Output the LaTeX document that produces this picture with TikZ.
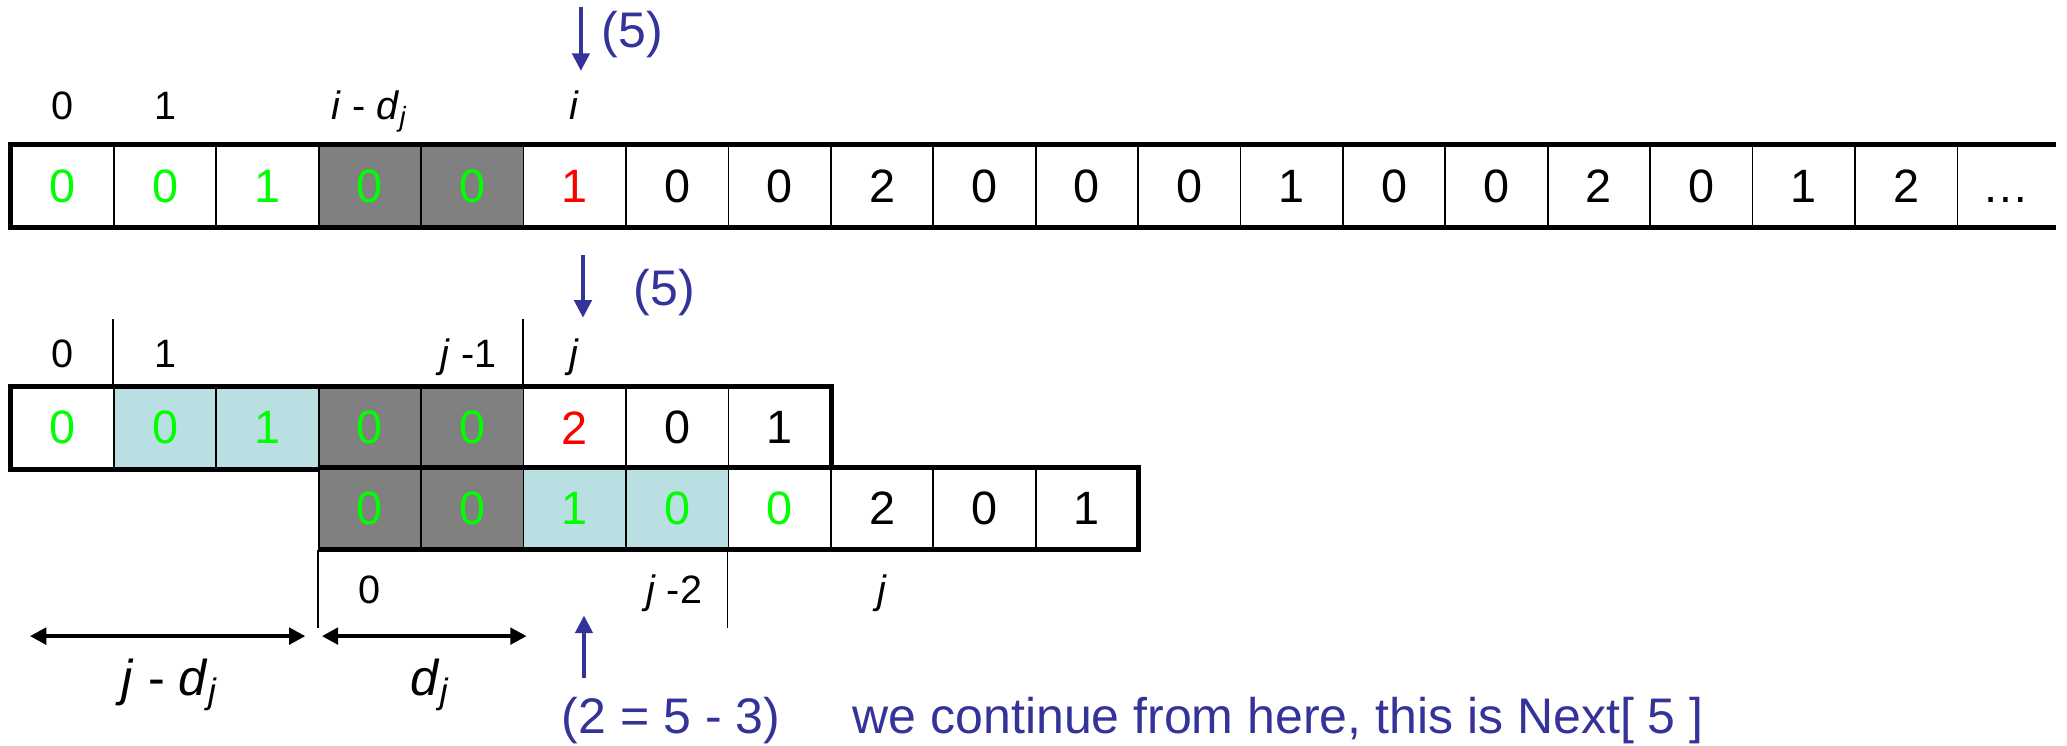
\documentclass[tikz,border=0pt]{standalone}
\usepackage{fontspec}
\setmainfont{Liberation Sans}
\usetikzlibrary{arrows.meta}
\definecolor{hlgreen}{HTML}{00FF00}
\definecolor{hlred}{HTML}{FF0000}
\definecolor{shade}{HTML}{808080}
\definecolor{match}{HTML}{BADFE3}
\definecolor{ptrblue}{HTML}{333399}

\begin{document}
\begin{tikzpicture}[
    cell/.style={draw, line width=0.5pt, minimum width=1cm, minimum height=0.79cm,
      inner sep=0pt, font=\fontsize{13}{15}\selectfont},
    frame/.style={line width=1.4pt},
    tick/.style={line width=0.5pt},
    idx/.style={anchor=base, font=\fontsize{11}{13}\selectfont},
    bigidx/.style={anchor=base, font=\fontsize{14}{16}\selectfont},
    ptr/.style={-{Triangle[length=0.17cm, width=0.17cm]}, line width=0.9pt, ptrblue},
    ptrtxt/.style={anchor=base west, text=ptrblue, font=\fontsize{13.9}{16}\selectfont},
    span/.style={{Triangle[length=0.16cm, width=0.16cm]}-{Triangle[length=0.16cm, width=0.16cm]},
      line width=1.2pt},
  ]
    \useasboundingbox (-0.112,-5.854) rectangle (20.07,1.421);

    % text row
    \foreach \v/\c/\f [count=\k from 0] in {0/hlgreen/white, 0/hlgreen/white, 1/hlgreen/white,
        0/hlgreen/shade, 0/hlgreen/shade, 1/hlred/white, 0/black/white, 0/black/white,
        2/black/white, 0/black/white, 0/black/white, 0/black/white, 1/black/white,
        0/black/white, 0/black/white, 2/black/white, 0/black/white, 1/black/white, 2/black/white}
      \node[cell, fill=\f, text=\c] (t\k) at (\k+0.5,-0.395) {\v};
    \node[cell, draw=none, minimum width=0.95cm] (t19) at (19.475,-0.395) {\vphantom{0}\textellipsis};
    \draw[frame] (t19.north east) -- (t0.north west) -- (t0.south west) -- (t19.south east);

    \node[idx] (ti0) at (0.5,0.25) {0};
    \node[idx] (ti1) at (1.5,0.25) {1};
    \node[idx] (tid) at (3.5,0.25) {\textit{i} - \textit{d}\textsubscript{\textit{j}}};
    \node[idx] (tii) at (5.5,0.25) {\textit{i}};

    \coordinate (p1a) at (5.56,1.35);
    \coordinate (p1b) at (5.56,0.73);
    \draw[ptr] (p1a) -- (p1b);
    \node[ptrtxt] (p1t) at (5.64,0.96) {(5)};

    % pattern row
    \foreach \v/\c/\f [count=\k from 0] in {0/hlgreen/white, 0/hlgreen/match, 1/hlgreen/match,
        0/hlgreen/shade, 0/hlgreen/shade, 2/hlred/white, 0/black/white, 1/black/white}
      \node[cell, fill=\f, text=\c] (m\k) at (\k+0.5,-2.755) {\v};
    \draw[frame] (m0.north west) rectangle (m7.south east);

    \node[idx] (mi0) at (0.5,-2.17) {0};
    \node[idx] (mi1) at (1.5,-2.17) {1};
    \node[idx] (mij1) at (4.46,-2.17) {\textit{j} -1};
    \node[idx] (mij) at (5.5,-2.17) {\textit{j}};
    \draw[tick] (m1.north west) -- ++(0,0.66);
    \draw[tick] (m5.north west) -- ++(0,0.66);

    \coordinate (p2a) at (5.58,-1.07);
    \coordinate (p2b) at (5.58,-1.68);
    \draw[ptr] (p2a) -- (p2b);
    \node[ptrtxt] (p2t) at (5.95,-1.56) {(5)};

    % shifted pattern row
    \foreach \v/\c/\f [count=\k from 0] in {0/hlgreen/shade, 0/hlgreen/shade, 1/hlgreen/match,
        0/hlgreen/match, 0/hlgreen/white, 2/black/white, 0/black/white, 1/black/white}
      \node[cell, fill=\f, text=\c] (s\k) at (\k+3.5,-3.545) {\v};
    \draw[frame] (s0.north west) -- (s7.north east) -- (s7.south east) -- (s0.south west);

    \node[idx] (si0) at (3.5,-4.47) {0};
    \node[idx] (sij2) at (6.47,-4.47) {\textit{j} -2};
    \node[idx] (sij) at (8.5,-4.47) {\textit{j}};
    \draw[tick] (s0.south west) -- ++(0,-0.76);
    \draw[tick] (s4.south west) -- ++(0,-0.76);

    % spans
    \coordinate (l1) at (0.18,-4.79);
    \coordinate (l2) at (2.87,-4.79);
    \coordinate (d1) at (3.03,-4.79);
    \coordinate (d2) at (5.03,-4.79);
    \draw[span] (l1) -- (l2);
    \draw[span] (d1) -- (d2);
    \node[bigidx] (ljd) at (1.55,-5.37) {\textit{j} - \textit{d}\textsubscript{\textit{j}}};
    \node[bigidx] (ld) at (4.09,-5.37) {\textit{d}\textsubscript{\textit{j}}};

    \coordinate (p3a) at (5.59,-5.2);
    \coordinate (p3b) at (5.59,-4.59);
    \draw[ptr] (p3a) -- (p3b);
    \node[ptrtxt] (p3t) at (5.25,-5.74) {(2 = 5 - 3)};
    \node[ptrtxt] (note) at (8.09,-5.74) {we continue from here, this is Next[ 5 ]};
  \end{tikzpicture}
\end{document}
